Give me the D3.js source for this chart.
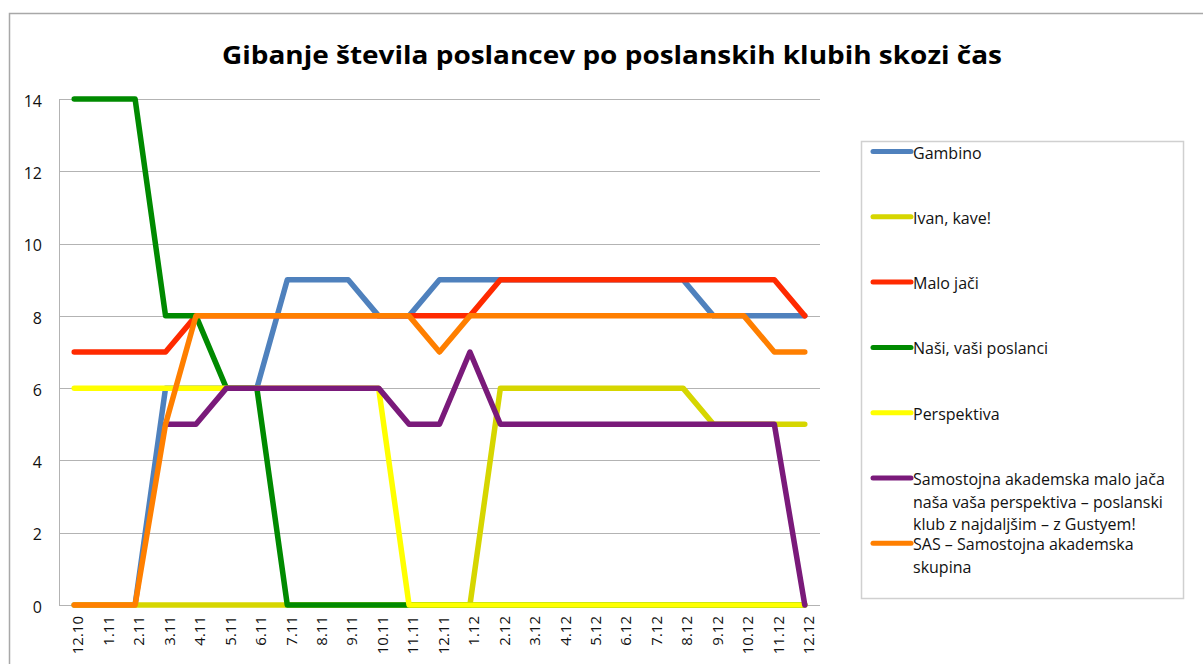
<!DOCTYPE html>
<html lang="sl">
<head>
    <meta charset="UTF-8">
    <script src="https://d3js.org/d3.v7.min.js"></script>
    <title>Gibanje števila poslancev</title>
    <style>
        body { margin: 0; background: #fff; }
        svg { display: block; }
    </style>
</head>
<body>
<script>

    // data
    var months = ["12.10","1.11","2.11","3.11","4.11","5.11","6.11","7.11","8.11","9.11","10.11","11.11",
                  "12.11","1.12","2.12","3.12","4.12","5.12","6.12","7.12","8.12","9.12","10.12","11.12","12.12"];

    var gambino     = [0,0,0,6,6,6,6,9,9,9,8,8,9,9,9,9,9,9,9,9,9,8,8,8,8];
    var ivanKave    = [0,0,0,0,0,0,0,0,0,0,0,0,0,0,6,6,6,6,6,6,6,5,5,5,5];
    var maloJaci    = [7,7,7,7,8,8,8,8,8,8,8,8,8,8,9,9,9,9,9,9,9,9,9,9,8];
    var nasiVasi    = [14,14,14,8,8,6,6,0,0,0,0,0,0,0,0,0,0,0,0,0,0,0,0,0,0];
    var perspektiva = [6,6,6,6,6,6,6,6,6,6,6,0,0,0,0,0,0,0,0,0,0,0,0,0,0];
    var samostojna  = [null,null,null,5,5,6,6,6,6,6,6,5,5,7,5,5,5,5,5,5,5,5,5,5,0];
    var sas         = [0,0,0,5,8,8,8,8,8,8,8,8,7,8,8,8,8,8,8,8,8,8,8,7,7];

    var yTicks = [0,2,4,6,8,10,12,14];

    var seriesNames = ["Gambino", "Ivan, kave!", "Malo jači", "Naši, vaši poslanci", "Perspektiva",
                       "Samostojna akademska malo jača naša vaša perspektiva – poslanski klub z najdaljšim – z Gustyem!",
                       "SAS – Samostojna akademska skupina"];
    var seriesValues = [gambino, ivanKave, maloJaci, nasiVasi, perspektiva, samostojna, sas];
    var seriesColors = ["#4f81bd", "#d6d600", "#ff2a00", "#008a00", "#ffff00", "#7a1a7a", "#ff7f00"];

    var width = 1203, height = 664;
    var plot = {left: 59, right: 820, top: 99, bottom: 605};

    var svg = d3.select("body")
        .append("svg")
        .attr("width", width)
        .attr("height", height);

    // outer frame of the chart area
    svg.append("rect")
        .attr("x", 9.5).attr("y", 13.5)
        .attr("width", width).attr("height", height)
        .attr("fill", "none")
        .attr("stroke", "#a8a8a8")
        .attr("stroke-width", 1.5);

    // title
    svg.append("text")
        .attr("x", 612).attr("y", 64)
        .attr("text-anchor", "middle")
        .attr("font-family", "'Open Sans', sans-serif")
        .attr("font-weight", "bold")
        .attr("font-size", 25)
        .attr("textLength", 780)
        .attr("lengthAdjust", "spacingAndGlyphs")
        .attr("fill", "#000")
        .text("Gibanje števila poslancev po poslanskih klubih skozi čas");

    var xScale = d3.scalePoint()
        .domain(months)
        .range([plot.left, plot.right])
        .padding(0.5);

    var yScale = d3.scaleLinear()
        .domain([0, 14])
        .range([plot.bottom, plot.top]);

    // gridlines
    svg.append("g")
        .selectAll("line")
        .data(yTicks)
        .enter()
        .append("line")
        .attr("x1", plot.left).attr("x2", plot.right)
        .attr("y1", function(d) {return Math.round(yScale(d)) + 0.5})
        .attr("y2", function(d) {return Math.round(yScale(d)) + 0.5})
        .attr("stroke", "#b3b3b3")
        .attr("stroke-width", 1);

    svg.append("line")
        .attr("x1", plot.left + 0.5).attr("x2", plot.left + 0.5)
        .attr("y1", plot.top).attr("y2", plot.bottom + 0.5)
        .attr("stroke", "#b3b3b3");

    // y axis labels
    var yAxis = d3.axisLeft(yScale)
        .tickValues(yTicks)
        .tickSize(0)
        .tickPadding(17);

    var yg = svg.append("g")
        .attr("transform", "translate(" + plot.left + ",0)")
        .call(yAxis);
    yg.select(".domain").remove();
    yg.selectAll("text")
        .attr("font-family", "'Open Sans', sans-serif")
        .attr("font-size", 16)
        .attr("fill", "#111")
        .attr("dy", "0.45em");

    // x axis labels, rotated
    svg.append("g")
        .selectAll("text")
        .data(months)
        .enter()
        .append("text")
        .attr("transform", function(d) {return "translate(" + (xScale(d) + 4) + ",616) rotate(-90)"})
        .attr("text-anchor", "end")
        .attr("dy", "0.35em")
        .attr("font-family", "'Open Sans', sans-serif")
        .attr("font-size", 15)
        .attr("fill", "#111")
        .text(function(d) {return d});

    // lines
    var line = d3.line()
        .defined(function(d) {return d != null})
        .x(function(d, i) {return xScale(months[i])})
        .y(function(d) {return yScale(d)});

    svg.append("g")
        .selectAll("path")
        .data(seriesValues)
        .enter()
        .append("path")
        .attr("d", line)
        .attr("fill", "none")
        .attr("stroke", function(d, i) {return seriesColors[i]})
        .attr("stroke-width", 5.5)
        .attr("stroke-linejoin", "round")
        .attr("stroke-linecap", "round");

    // legend
    svg.append("rect")
        .attr("x", 861.5).attr("y", 141.5)
        .attr("width", 322).attr("height", 457)
        .attr("fill", "#fff")
        .attr("stroke", "#d0d0d0")
        .attr("stroke-width", 1.5);

    var legendLines = [["Gambino"], ["Ivan, kave!"], ["Malo jači"], ["Naši, vaši poslanci"], ["Perspektiva"],
                       ["Samostojna akademska malo jača", "naša vaša perspektiva – poslanski", "klub z najdaljšim – z Gustyem!"],
                       ["SAS – Samostojna akademska", "skupina"]];

    var legend = svg.append("g")
        .selectAll("g")
        .data(seriesNames)
        .enter()
        .append("g")
        .attr("transform", function(d, i) {return "translate(0," + (151.5 + i * 65.3) + ")"});

    legend.append("line")
        .attr("x1", 873).attr("x2", 911)
        .attr("stroke", function(d, i) {return seriesColors[i]})
        .attr("stroke-width", 5)
        .attr("stroke-linecap", "round");

    legend.each(function(d, i) {
        var t = d3.select(this).append("text")
            .attr("x", 913)
            .attr("y", 7)
            .attr("font-family", "'Open Sans', sans-serif")
            .attr("font-size", 16)
            .attr("fill", "#111");
        legendLines[i].forEach(function(s, k) {
            t.append("tspan")
                .attr("x", 913)
                .attr("dy", k == 0 ? 0 : 22.5)
                .text(s);
        });
    });

</script>
</body>
</html>
